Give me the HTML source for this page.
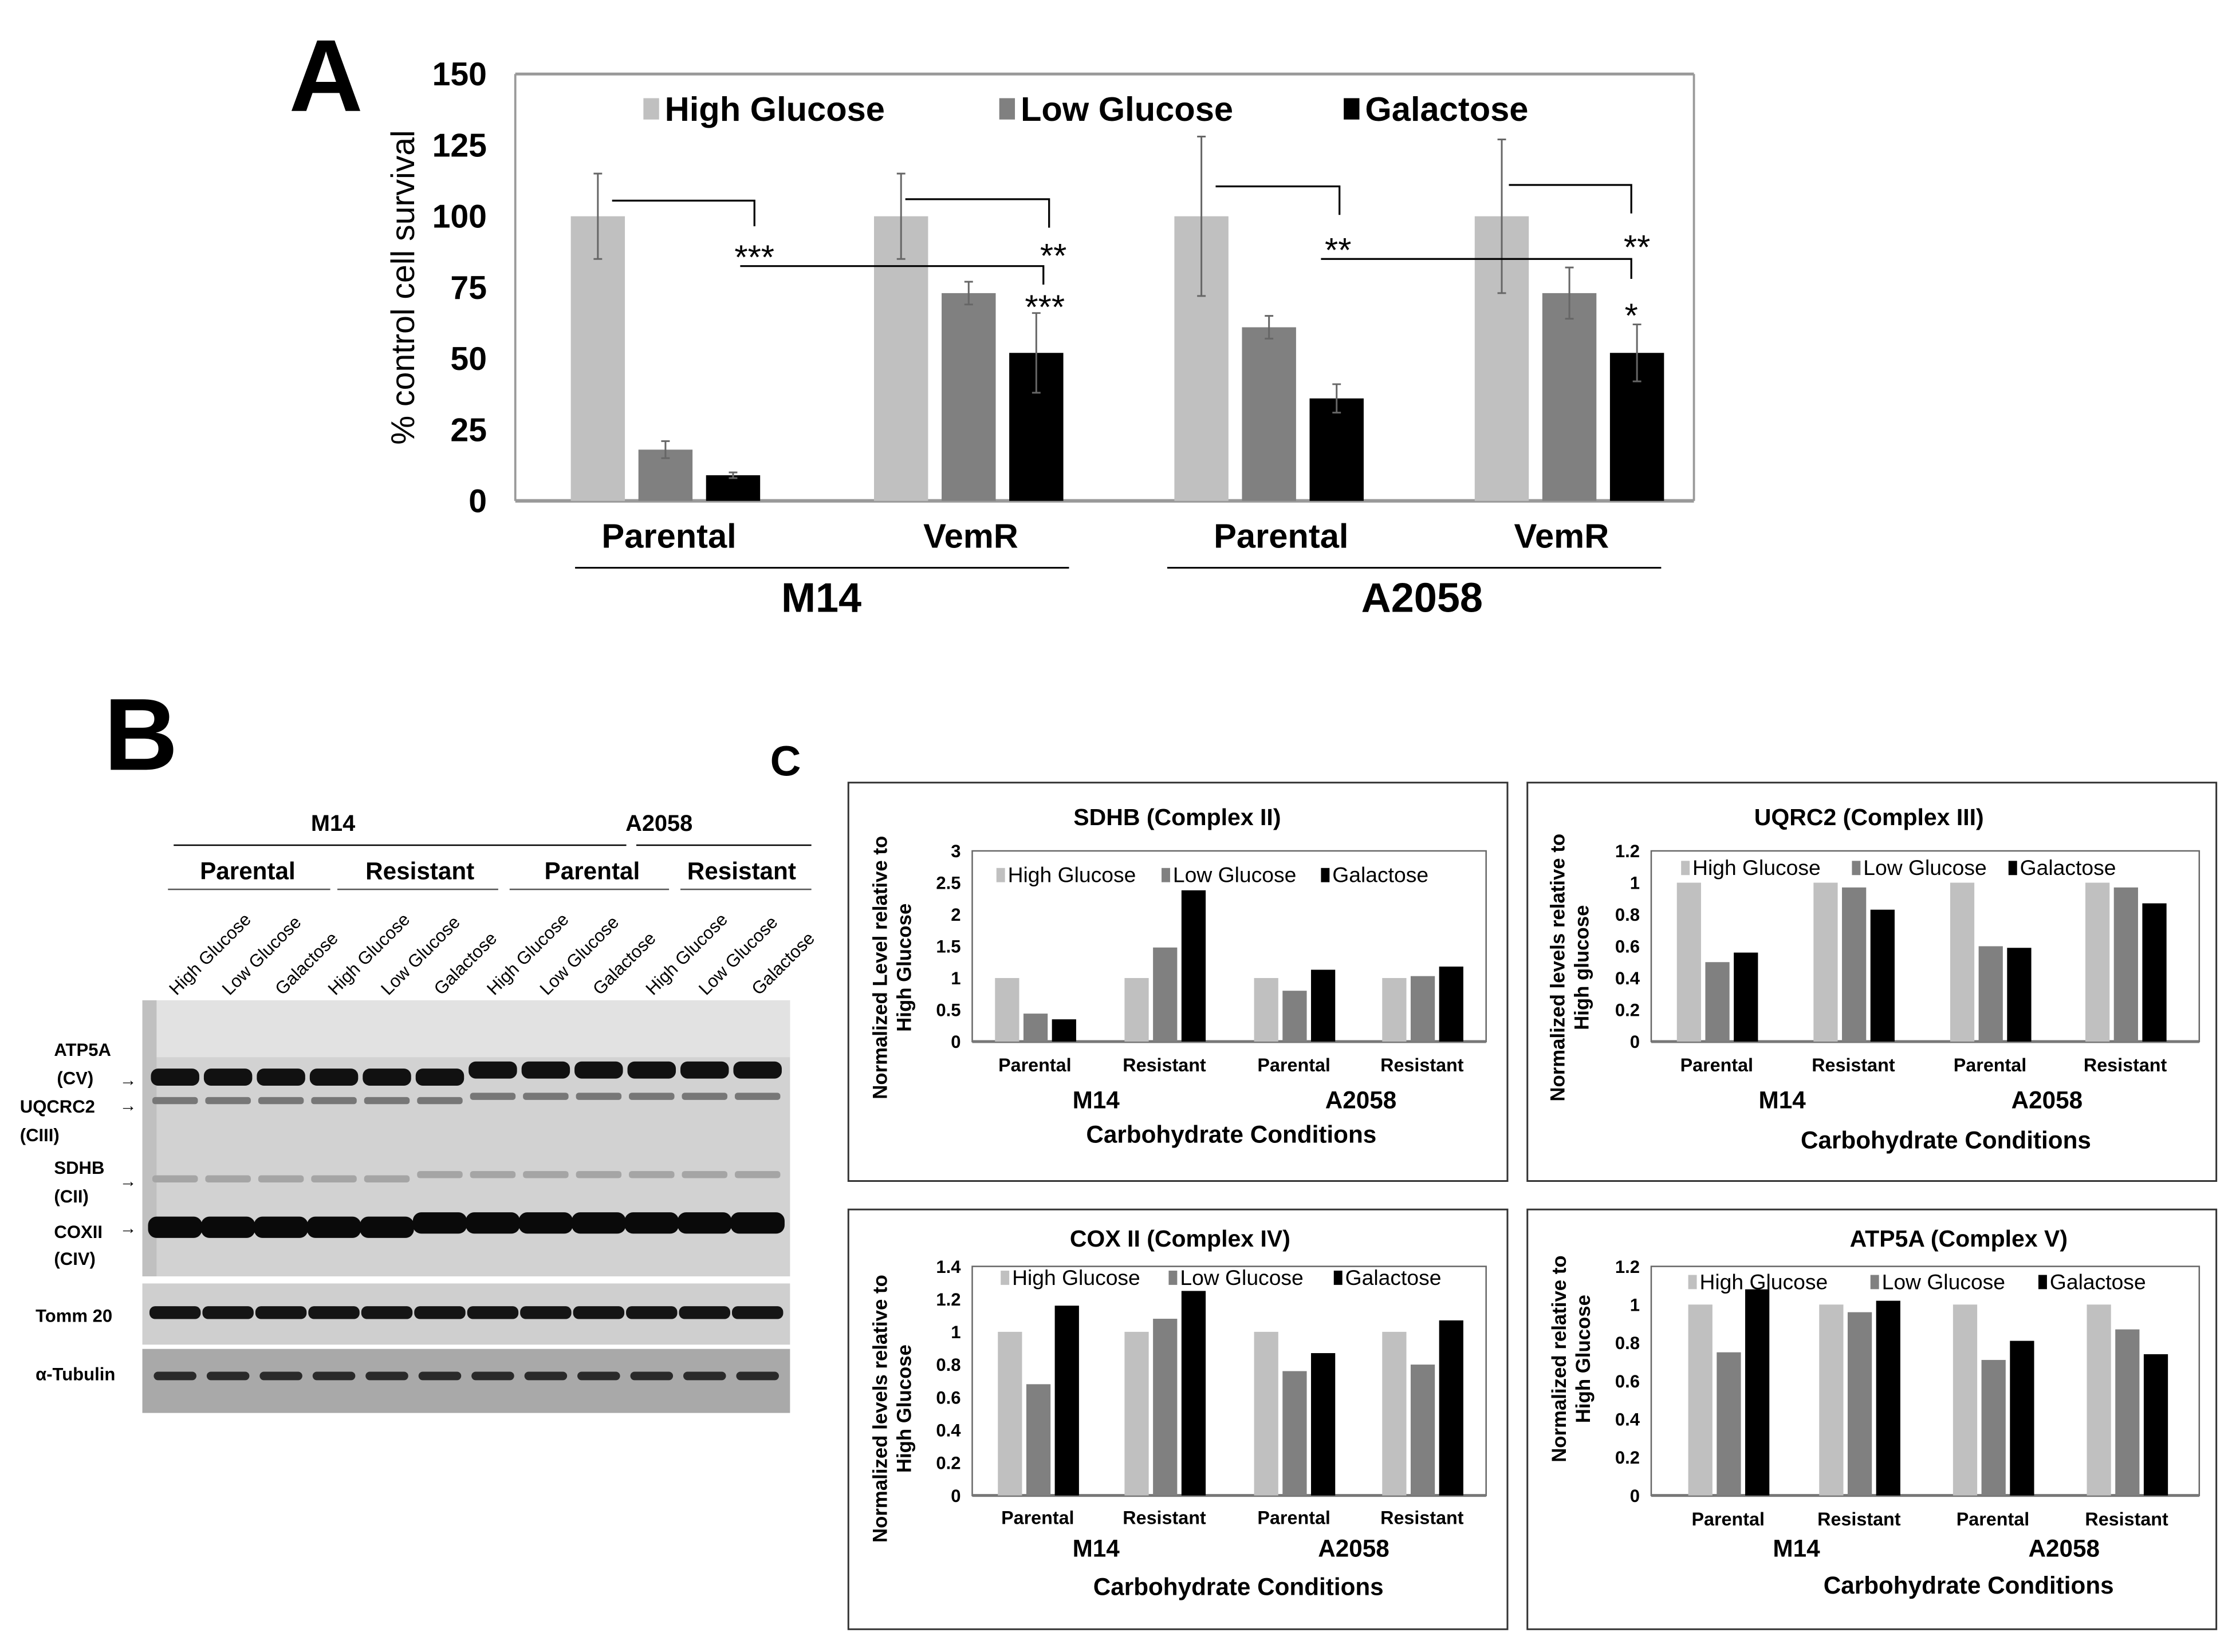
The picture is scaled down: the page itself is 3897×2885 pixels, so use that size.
<!DOCTYPE html>
<html><head><meta charset="utf-8">
<style>
html,body{margin:0;padding:0;background:#fff;}
svg{display:block;}
text{font-family:"Liberation Sans",sans-serif;}
</style></head>
<body>
<svg id="fig" width="3897" height="2885" viewBox="0 0 1568 1161" preserveAspectRatio="none" xmlns="http://www.w3.org/2000/svg">
<rect x="0" y="0" width="1568" height="1161" fill="#fff"/>
<text x="203" y="78" font-size="72" font-weight="bold">A</text>
<text transform="translate(291,202) rotate(-90)" text-anchor="middle" font-size="23">% control cell survival</text>
<g id="chartA"></g>
<g font-size="24" font-weight="bold" text-anchor="middle">
<text x="470" y="385">Parental</text>
<text x="682" y="385">VemR</text>
<text x="900" y="385">Parental</text>
<text x="1097" y="385">VemR</text>
<line x1="404" y1="399" x2="751" y2="399" stroke="#000" stroke-width="1.2"/>
<line x1="820" y1="399" x2="1167" y2="399" stroke="#000" stroke-width="1.2"/>
<text x="577" y="430" font-size="29">M14</text>
<text x="999" y="430" font-size="29">A2058</text>
</g>
<g stroke="#000" stroke-width="1.3" fill="none">
<polyline points="430,141 530,141 530,159"/>
<polyline points="636,140 737,140 737,160"/>
<polyline points="520,187 733,187 733,200"/>
<polyline points="854,131 941,131 941,151"/>
<polyline points="1060,130 1146,130 1146,150"/>
<polyline points="928,182 1146,182 1146,196"/>
</g>
<g font-size="24" text-anchor="middle" fill="#000">
<text x="530" y="189">***</text>
<text x="740" y="188">**</text>
<text x="734" y="224">***</text>
<text x="940" y="184">**</text>
<text x="1150" y="182">**</text>
<text x="1146" y="230">*</text>
</g>

<text x="73" y="541" font-size="72" font-weight="bold">B</text>
<g font-weight="bold" text-anchor="middle">
<text x="234" y="584" font-size="16">M14</text>
<text x="463" y="584" font-size="16">A2058</text>
<line x1="122" y1="594" x2="440" y2="594" stroke="#000" stroke-width="1"/>
<line x1="447" y1="594" x2="570" y2="594" stroke="#000" stroke-width="1"/>
<text x="174" y="618" font-size="17">Parental</text>
<text x="295" y="618" font-size="17">Resistant</text>
<text x="416" y="618" font-size="17">Parental</text>
<text x="521" y="618" font-size="17">Resistant</text>
<line x1="118" y1="625" x2="232" y2="625" stroke="#555" stroke-width="1"/>
<line x1="237" y1="625" x2="350" y2="625" stroke="#555" stroke-width="1"/>
<line x1="358" y1="625" x2="470" y2="625" stroke="#555" stroke-width="1"/>
<line x1="478" y1="625" x2="570" y2="625" stroke="#555" stroke-width="1"/>
</g>
<g id="laneLabels" font-size="12.5"></g>
<g>
<rect x="100" y="703" width="455" height="194" fill="#d2d2d2"/>
<rect x="100" y="703" width="455" height="40" fill="#e2e2e2"/>
<rect x="100" y="902" width="455" height="43" fill="#cfcfcf"/>
<rect x="100" y="948" width="455" height="45" fill="#a9a9a9"/>
<rect x="100" y="703" width="10" height="194" fill="#c0c0c0"/>
<g id="bands"></g>
</g>
<g font-size="12.5" font-weight="bold">
<text x="38" y="742">ATP5A</text><text x="40" y="762">(CV)</text>
<text x="14" y="782">UQCRC2</text><text x="14" y="802">(CIII)</text>
<text x="38" y="825">SDHB</text><text x="38" y="845">(CII)</text>
<text x="38" y="870">COXII</text><text x="38" y="889">(CIV)</text>
<text x="25" y="929">Tomm  20</text>
<text x="25" y="970">α-Tubulin</text>
<text x="84" y="763" font-size="12">→</text>
<text x="84" y="781" font-size="12">→</text>
<text x="84" y="834" font-size="12">→</text>
<text x="84" y="867" font-size="12">→</text>
</g>

<text x="541" y="545" font-size="30" font-weight="bold">C</text>
<g id="chartsC"></g>
</svg>
<script>
const aGroups = ["Parental M14","VemR M14","Parental A2058","VemR A2058"];
const aHigh = [100,100,100,100];
const aLow = [18,73,61,73];
const aGal = [9,52,36,52];
const aHighErr = [15,15,28,27];
const aLowErr = [3,4,4,9];
const aGalErr = [1,14,5,10];
const aTicks = [0,25,50,75,100,125,150];
const seriesNames = ["High Glucose","Low Glucose","Galactose"];
const seriesColors = ["#c0c0c0","#808080","#000000"];

const cCategories = ["Parental","Resistant","Parental","Resistant"];
const sdhbHigh = [1,1,1,1];
const sdhbLow = [0.44,1.48,0.8,1.03];
const sdhbGal = [0.35,2.38,1.13,1.18];
const sdhbTicks = ["0","0.5","1","1.5","2","2.5","3"];
const uqHigh = [1,1,1,1];
const uqLow = [0.5,0.97,0.6,0.97];
const uqGal = [0.56,0.83,0.59,0.87];
const uqTicks = ["0","0.2","0.4","0.6","0.8","1","1.2"];
const coxHigh = [1,1,1,1];
const coxLow = [0.68,1.08,0.76,0.8];
const coxGal = [1.16,1.25,0.87,1.07];
const coxTicks = ["0","0.2","0.4","0.6","0.8","1","1.2","1.4"];
const atpHigh = [1,1,1,1];
const atpLow = [0.75,0.96,0.71,0.87];
const atpGal = [1.08,1.02,0.81,0.74];
const atpTicks = ["0","0.2","0.4","0.6","0.8","1","1.2"];

const NS="http://www.w3.org/2000/svg";
function mk(tag,attrs,parent){const e=document.createElementNS(NS,tag);for(const k in attrs)e.setAttribute(k,attrs[k]);if(parent)parent.appendChild(e);return e;}

(function(){
  const g=document.getElementById('chartA');
  const yA=v=>352-(v/150)*300;
  const groupStart=[401,614,825,1036];
  const xBar=(gi,si)=>groupStart[gi]+si*47.5;
  const bw=38;
  mk('line',{x1:362,y1:52,x2:1190,y2:52,stroke:'#999','stroke-width':2},g);
  mk('line',{x1:362,y1:52,x2:362,y2:352,stroke:'#999','stroke-width':1.5},g);
  mk('line',{x1:1190,y1:52,x2:1190,y2:352,stroke:'#999','stroke-width':1.5},g);
  mk('line',{x1:362,y1:352,x2:1190,y2:352,stroke:'#999','stroke-width':2.5},g);
  aTicks.forEach(t=>{
    const tx=mk('text',{x:342,y:yA(t)+8,'text-anchor':'end','font-size':23,'font-weight':'bold'},g);
    
    
    tx.textContent=t;
  });
  const vals=[aHigh,aLow,aGal], errs=[aHighErr,aLowErr,aGalErr];
  aGroups.forEach((gn,gi)=>{
    vals.forEach((arr,si)=>{
      const x=xBar(gi,si), v=arr[gi];
      const r=mk('rect',{x:x,y:yA(v),width:bw,height:352-yA(v),fill:seriesColors[si]},g);
      
      
      const cx=x+bw/2, e=errs[si][gi];
      const eb=mk('path',{d:`M${cx},${yA(v+e)}V${yA(v-e)}M${cx-3},${yA(v+e)}H${cx+3}M${cx-3},${yA(v-e)}H${cx+3}`,stroke:'#666','stroke-width':1.2,fill:'none'},g);
      
      
    });
  });
  const lx=[452,702,944];
  seriesNames.forEach((n,i)=>{
    const lg=mk('g',{},g);
    
    
    mk('rect',{x:lx[i],y:69,width:11,height:15,fill:seriesColors[i]},lg);
    const t=mk('text',{x:lx[i]+15,y:85,'font-size':24,'font-weight':'bold'},lg);
    t.textContent=n;
  });
})();

(function(){
  const lab=document.getElementById('laneLabels');
  const bands=document.getElementById('bands');
  const names=["High Glucose","Low Glucose","Galactose"];
  for(let i=0;i<12;i++){
    const cx=123+i*37.2;
    const t=mk('text',{transform:`translate(${cx+1},${700}) rotate(-45)`},lab);
    t.textContent=names[i%3];
    const up=i>=6?-5:0;
    mk('rect',{x:cx-17,y:751+up,width:34,height:12,rx:5,fill:'#111'},bands);
    mk('rect',{x:cx-16,y:771+up*0.6,width:32,height:5,rx:2,fill:'#777'},bands);
    mk('rect',{x:cx-16,y:826-(i>=5?3:0),width:32,height:5,rx:2,fill:'#a5a5a5'},bands);
    mk('rect',{x:cx-19,y:855-(i>=5?3:0),width:38,height:15,rx:6,fill:'#0a0a0a'},bands);
    mk('rect',{x:cx-18,y:918,width:36,height:9,rx:4,fill:'#151515'},bands);
    mk('rect',{x:cx-15,y:964,width:30,height:6,rx:3,fill:'#2a2a2a'},bands);
  }
})();

function drawC(cfg){
  const root=document.getElementById('chartsC');
  const g=mk('g',{},root);
  
  
  mk('rect',{x:cfg.box[0],y:cfg.box[1],width:cfg.box[2],height:cfg.box[3],fill:'none',stroke:'#333','stroke-width':1.2},g);
  const n=cfg.ticks.length-1, max=parseFloat(cfg.ticks[n]);
  const y=v=>cfg.y0-(v/max)*(cfg.y0-cfg.yTop);
  mk('rect',{x:cfg.x0,y:cfg.yTop,width:cfg.x1-cfg.x0,height:cfg.y0-cfg.yTop,fill:'none',stroke:'#666','stroke-width':1},g);
  mk('line',{x1:cfg.x0,y1:cfg.y0,x2:cfg.x1,y2:cfg.y0,stroke:'#777','stroke-width':2},g);
  cfg.ticks.forEach(t=>{
    const tx=mk('text',{x:cfg.x0-8,y:y(parseFloat(t))+4.5,'text-anchor':'end','font-size':12.5,'font-weight':'bold'},g);
    
    
    tx.textContent=t;
  });
  const vals=[cfg.hi,cfg.lo,cfg.gal];
  cCategories.forEach((c,ci)=>{
    const cx=cfg.cx[ci];
    vals.forEach((arr,si)=>{
      const bx=cx-28+si*20;
      const r=mk('rect',{x:bx,y:y(arr[ci]),width:17,height:cfg.y0-y(arr[ci]),fill:seriesColors[si]},g);
      
      
    });
    const t=mk('text',{x:cx,y:cfg.catY,'text-anchor':'middle','font-size':13,'font-weight':'bold'},g);
    t.textContent=c;
  });
  const m=mk('text',{x:cfg.m14[0],y:cfg.m14[1],'text-anchor':'middle','font-size':17,'font-weight':'bold'},g);m.textContent='M14';
  const a=mk('text',{x:cfg.a20[0],y:cfg.a20[1],'text-anchor':'middle','font-size':17,'font-weight':'bold'},g);a.textContent='A2058';
  const cc=mk('text',{x:cfg.carb[0],y:cfg.carb[1],'text-anchor':'middle','font-size':17,'font-weight':'bold'},g);cc.textContent='Carbohydrate Conditions';
  const ti=mk('text',{x:cfg.title[0],y:cfg.title[1],'text-anchor':'middle','font-size':16.5,'font-weight':'bold'},g);ti.textContent=cfg.titleText;
  const yl=mk('text',{transform:`translate(${cfg.yl[0]},${cfg.yl[1]}) rotate(-90)`,'text-anchor':'middle','font-size':14,'font-weight':'bold'},g);
  const s1=mk('tspan',{x:0,dy:0},yl);s1.textContent=cfg.yl1;
  const s2=mk('tspan',{x:0,dy:17},yl);s2.textContent=cfg.yl2;
  seriesNames.forEach((nm,i)=>{
    const lg=mk('g',{},g);
    
    
    mk('rect',{x:cfg.leg[i],y:cfg.legY-9,width:6,height:10,fill:seriesColors[i]},lg);
    const t=mk('text',{x:cfg.leg[i]+8,y:cfg.legY+1,'font-size':15},lg);t.textContent=nm;
  });
}
drawC({name:'sdhb-chart',box:[596,550,463,280],x0:683,x1:1044,y0:732,yTop:598,ticks:sdhbTicks,hi:sdhbHigh,lo:sdhbLow,gal:sdhbGal,
  cx:[727,818,909,999],catY:753,m14:[770,779],a20:[956,779],carb:[865,803],title:[827,580],titleText:'SDHB (Complex II)',
  yl:[623,680],yl1:'Normalized Level relative to',yl2:'High Glucose',leg:[700,816,928],legY:619});
drawC({name:'uqcrc2-chart',box:[1073,550,484,280],x0:1160,x1:1545,y0:732,yTop:598,ticks:uqTicks,hi:uqHigh,lo:uqLow,gal:uqGal,
  cx:[1206,1302,1398,1493],catY:753,m14:[1252,779],a20:[1438,779],carb:[1367,807],title:[1313,580],titleText:'UQRC2 (Complex III)',
  yl:[1099,680],yl1:'Normalized levels relative to',yl2:'High glucose',leg:[1181,1301,1411],legY:614});
drawC({name:'coxii-chart',box:[596,850,463,295],x0:683,x1:1044,y0:1051,yTop:890,ticks:coxTicks,hi:coxHigh,lo:coxLow,gal:coxGal,
  cx:[729,818,909,999],catY:1071,m14:[770,1094],a20:[951,1094],carb:[870,1121],title:[829,876],titleText:'COX II (Complex IV)',
  yl:[623,990],yl1:'Normalized levels relative to',yl2:'High Glucose',leg:[703,821,937],legY:902});
drawC({name:'atp5a-chart',box:[1073,850,484,295],x0:1160,x1:1545,y0:1051,yTop:890,ticks:atpTicks,hi:atpHigh,lo:atpLow,gal:atpGal,
  cx:[1214,1306,1400,1494],catY:1072,m14:[1262,1094],a20:[1450,1094],carb:[1383,1120],title:[1376,876],titleText:'ATP5A (Complex V)',
  yl:[1100,955],yl1:'Normalized relative to',yl2:'High Glucose',leg:[1186,1314,1432],legY:905});
</script>
</body></html>
